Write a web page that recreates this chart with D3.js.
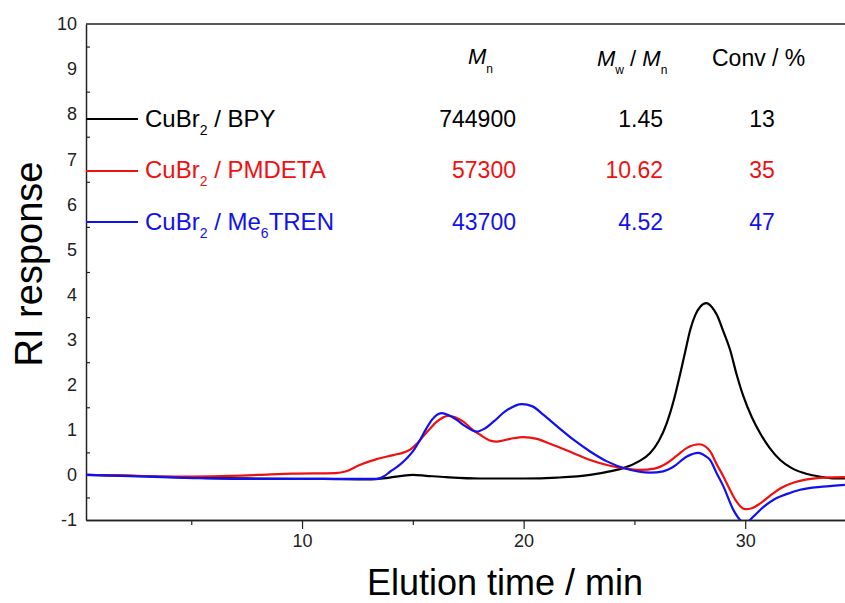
<!DOCTYPE html>
<html>
<head>
<meta charset="utf-8">
<script src="https://cdn.jsdelivr.net/npm/d3@7"></script>
<style>
  body { margin: 0; background: #fff; }
  svg { display: block; font-family: "Liberation Sans", Arial, sans-serif; }
</style>
</head>
<body>
<div id="chart"></div>
<script>
// elution time (min) and RI response
var bpyTime = [0.25, 3, 5, 8, 11, 13, 13.8, 14.5, 15, 15.6, 16.5, 18, 20, 21.5, 23, 24, 24.5, 25.2, 25.7, 26.1, 26.46, 26.8, 27.07, 27.3, 27.52, 27.75, 27.97, 28.24, 28.5, 28.72, 29, 29.32, 29.6, 29.92, 30.3, 30.68, 31.1, 31.58, 32.1, 32.79, 33.4, 33.84, 34.5];
var bpyRI = [0, -0.03, -0.06, -0.08, -0.09, -0.1, -0.07, -0.02, 0, -0.02, -0.05, -0.08, -0.08, -0.06, 0, 0.09, 0.15, 0.3, 0.48, 0.75, 1.15, 1.7, 2.25, 2.75, 3.22, 3.55, 3.73, 3.81, 3.72, 3.55, 3.2, 2.77, 2.25, 1.74, 1.28, 0.92, 0.6, 0.33, 0.15, 0.02, -0.04, -0.07, -0.08];

var pmdetaTime = [0.25, 2, 4, 6, 8, 9.6, 11.5, 12, 12.6, 13.37, 14.12, 14.6, 14.88, 15.2, 15.48, 15.8, 16.08, 16.6, 17.28, 17.7, 18.04, 18.5, 18.79, 19.4, 19.99, 20.6, 21.2, 22.25, 23, 23.76, 24.5, 25.26, 25.9, 26.46, 26.9, 27.37, 27.94, 28.42, 28.7, 29.02, 29.3, 29.55, 30, 30.3, 30.68, 31.1, 31.58, 32.2, 32.79, 33.6, 34.5];
var pmdetaRI = [0, -0.01, -0.04, -0.03, 0, 0.03, 0.04, 0.08, 0.22, 0.35, 0.44, 0.5, 0.56, 0.7, 0.86, 1.04, 1.18, 1.31, 1.18, 1, 0.89, 0.76, 0.74, 0.8, 0.84, 0.8, 0.69, 0.48, 0.33, 0.22, 0.15, 0.11, 0.14, 0.26, 0.42, 0.6, 0.68, 0.52, 0.25, -0.04, -0.32, -0.55, -0.76, -0.74, -0.63, -0.47, -0.3, -0.17, -0.1, -0.06, -0.05];

var me6Time = [0.25, 3, 5.08, 7.5, 10, 12, 13.37, 13.7, 13.97, 14.35, 14.73, 15, 15.33, 15.6, 15.86, 16.3, 16.6, 16.98, 17.4, 17.89, 18.25, 18.64, 19.2, 19.92, 20.4, 20.9, 21.5, 22.25, 23, 23.76, 24.66, 25.71, 26.3, 26.76, 27.37, 27.89, 28.2, 28.42, 28.7, 29.02, 29.47, 29.85, 30.05, 30.38, 30.8, 31.28, 31.9, 32.48, 33.5, 34.5];
var me6RI = [0, -0.04, -0.07, -0.09, -0.09, -0.09, -0.09, -0.03, 0.07, 0.2, 0.37, 0.52, 0.78, 1.02, 1.22, 1.37, 1.33, 1.22, 1.07, 0.96, 1.03, 1.18, 1.42, 1.57, 1.52, 1.33, 1.08, 0.78, 0.52, 0.3, 0.13, 0.05, 0.08, 0.18, 0.41, 0.49, 0.42, 0.33, 0.05, -0.26, -0.78, -1.03, -1.05, -0.92, -0.72, -0.55, -0.42, -0.33, -0.26, -0.22];

var seriesLabels = ["BPY", "PMDETA", "Me6TREN"];
var seriesColors = ["#000000", "#ee1111", "#1111ee"];
var mnValues = ["744900", "57300", "43700"];
var pdiValues = ["1.45", "10.62", "4.52"];
var convValues = ["13", "35", "47"];

var yTicks = [-1, 0, 1, 2, 3, 4, 5, 6, 7, 8, 9, 10];
var yMinorTicks = [-0.5, 0.5, 1.5, 2.5, 3.5, 4.5, 5.5, 6.5, 7.5, 8.5, 9.5];
var xTicks = [10, 20, 30];
var xMinorTicks = [5, 15, 25];

var W = 845, H = 603;
var margin = { top: 24, right: -11, bottom: 83, left: 86 };
var width = W - margin.left - margin.right,
  height = H - margin.top - margin.bottom;

var series = [bpyTime, pmdetaTime, me6Time].map(function (t, k) {
  var v = [bpyRI, pmdetaRI, me6RI][k];
  return t.map(function (d, i) { return { t: d, v: v[i] }; });
});

var x = d3.scaleLinear().domain([0.25, 35]).range([0, width]);
var y = d3.scaleLinear().domain([-1, 10]).range([height, 0]);

var svg = d3
  .select("#chart")
  .append("svg")
  .attr("width", W)
  .attr("height", H);

var g = svg
  .append("g")
  .attr("transform", "translate(" + margin.left + "," + margin.top + ")");

g.append("clipPath")
  .attr("id", "plotclip")
  .append("rect")
  .attr("width", width)
  .attr("height", height);

// frame top line
g.append("line")
  .attr("x1", 0)
  .attr("x2", width)
  .attr("y1", 0)
  .attr("y2", 0)
  .attr("stroke", "#222")
  .attr("stroke-width", 1.5);

// y axis: inward ticks at halves, labels at integers
g.append("g")
  .attr("class", "yminor")
  .call(d3.axisLeft(y).tickValues(yMinorTicks).tickFormat("").tickSizeInner(-4).tickSizeOuter(0));

g.append("g")
  .attr("class", "ylab")
  .call(d3.axisLeft(y).tickValues(yTicks).tickSize(0).tickPadding(9).tickFormat((d) => String(d)))
  .call(function (a) { a.select(".domain").remove(); });

// x axis
g.append("g")
  .attr("transform", "translate(0," + height + ")")
  .call(d3.axisBottom(x).tickValues(xMinorTicks).tickFormat("").tickSizeInner(5).tickSizeOuter(0));

g.append("g")
  .attr("class", "xlab")
  .attr("transform", "translate(0," + height + ")")
  .call(d3.axisBottom(x).tickValues(xTicks).tickSizeInner(9).tickSizeOuter(0).tickPadding(5));

g.selectAll(".ylab, .xlab")
  .attr("font-family", null)
  .attr("font-size", null);
g.selectAll(".ylab text, .xlab text")
  .style("font-size", "18px")
  .attr("fill", "#222");

g.selectAll(".domain").attr("stroke", "#222").attr("stroke-width", 1.5);
g.selectAll(".tick line").attr("stroke", "#222").attr("stroke-width", 1.2);

// traces
var line = d3
  .line()
  .x(function (d) { return x(d.t); })
  .y(function (d) { return y(d.v); })
  .curve(d3.curveMonotoneX);

g.append("g")
  .attr("clip-path", "url(#plotclip)")
  .selectAll("path")
  .data(series)
  .enter()
  .append("path")
  .attr("fill", "none")
  .attr("stroke", function (d, i) { return seriesColors[i]; })
  .attr("stroke-width", 2.2)
  .attr("d", line);

// legend + table
var rowY = [127, 178, 230];
var rowLine = [119, 171, 222];

var leg = g.append("g").attr("transform", "translate(0," + -margin.top + ")");

seriesLabels.forEach(function (lab, i) {
  leg.append("line")
    .attr("x1", 0)
    .attr("x2", 52)
    .attr("y1", rowLine[i])
    .attr("y2", rowLine[i])
    .attr("stroke", seriesColors[i])
    .attr("stroke-width", 2.2);

  var t = leg.append("text")
    .attr("x", 59)
    .attr("y", rowY[i])
    .attr("fill", seriesColors[i])
    .style("font-size", "24px");
  t.append("tspan").text("CuBr");
  t.append("tspan").attr("dy", 8).style("font-size", "14px").text("2");
  if (lab == "Me6TREN") {
    t.append("tspan").attr("dy", -8).text(" / Me");
    t.append("tspan").attr("dy", 8).style("font-size", "14px").text("6");
    t.append("tspan").attr("dy", -8).text("TREN");
  } else {
    t.append("tspan").attr("dy", -8).text(" / " + lab);
  }

  leg.append("text")
    .attr("x", 430)
    .attr("y", rowY[i])
    .attr("text-anchor", "end")
    .attr("fill", seriesColors[i])
    .style("font-size", "23px")
    .text(mnValues[i]);

  leg.append("text")
    .attr("x", 577)
    .attr("y", rowY[i])
    .attr("text-anchor", "end")
    .attr("fill", seriesColors[i])
    .style("font-size", "23px")
    .text(pdiValues[i]);

  leg.append("text")
    .attr("x", 676)
    .attr("y", rowY[i])
    .attr("text-anchor", "middle")
    .attr("fill", seriesColors[i])
    .style("font-size", "23px")
    .text(convValues[i]);
});

// column headers
var h1 = leg.append("text").attr("x", 382).attr("y", 64).style("font-size", "22px");
h1.append("tspan").style("font-style", "italic").text("M");
h1.append("tspan").attr("dy", 9).style("font-size", "12px").text("n");

var h2 = leg.append("text").attr("x", 511).attr("y", 66).style("font-size", "22px");
h2.append("tspan").style("font-style", "italic").text("M");
h2.append("tspan").attr("dy", 8).style("font-size", "12px").text("w");
h2.append("tspan").attr("dy", -8).text(" / ");
h2.append("tspan").style("font-style", "italic").text("M");
h2.append("tspan").attr("dy", 8).style("font-size", "12px").text("n");

leg.append("text")
  .attr("x", 626)
  .attr("y", 66)
  .style("font-size", "23px")
  .text("Conv / %");

// axis titles
svg.append("text")
  .attr("transform", "translate(42,264) rotate(-90)")
  .attr("text-anchor", "middle")
  .style("font-size", "38px")
  .text("RI response");

svg.append("text")
  .attr("x", 505)
  .attr("y", 595)
  .attr("text-anchor", "middle")
  .style("font-size", "36px")
  .text("Elution time / min");
</script>
</body>
</html>
